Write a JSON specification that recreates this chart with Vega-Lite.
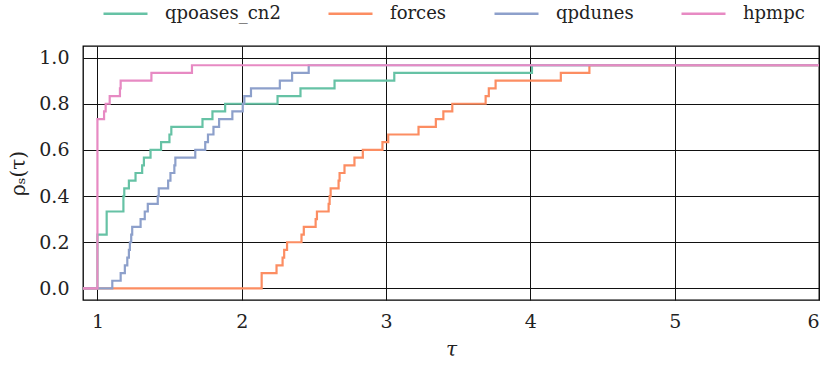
{
  "$schema": "https://vega.github.io/schema/vega-lite/v6.json",
  "width": 736,
  "height": 254,
  "autosize": {"type": "none"},
  "padding": {"left": 83, "top": 46, "right": 8, "bottom": 66},
  "background": "white",
  "config": {
    "font": "DejaVu Serif",
    "view": {"stroke": "black", "strokeWidth": 1.3},
    "axis": {
      "grid": true,
      "gridColor": "#111111",
      "gridWidth": 1,
      "gridOpacity": 1,
      "domain": false,
      "ticks": false,
      "labelFont": "DejaVu Serif",
      "labelFontSize": 19,
      "labelColor": "#222222",
      "titleFont": "DejaVu Serif",
      "titleFontSize": 20,
      "titleFontWeight": "normal",
      "titleColor": "#222222"
    }
  },
  "data": {
    "values": [
      {"s": "qpoases_cn2", "t": 0.9, "v": 0},
      {"s": "qpoases_cn2", "t": 1.0, "v": 0.2333},
      {"s": "qpoases_cn2", "t": 1.064, "v": 0.3333},
      {"s": "qpoases_cn2", "t": 1.18, "v": 0.4},
      {"s": "qpoases_cn2", "t": 1.186, "v": 0.4333},
      {"s": "qpoases_cn2", "t": 1.218, "v": 0.4667},
      {"s": "qpoases_cn2", "t": 1.264, "v": 0.5},
      {"s": "qpoases_cn2", "t": 1.31, "v": 0.5333},
      {"s": "qpoases_cn2", "t": 1.322, "v": 0.5667},
      {"s": "qpoases_cn2", "t": 1.368, "v": 0.6},
      {"s": "qpoases_cn2", "t": 1.441, "v": 0.6333},
      {"s": "qpoases_cn2", "t": 1.499, "v": 0.6667},
      {"s": "qpoases_cn2", "t": 1.512, "v": 0.7},
      {"s": "qpoases_cn2", "t": 1.728, "v": 0.7333},
      {"s": "qpoases_cn2", "t": 1.797, "v": 0.7667},
      {"s": "qpoases_cn2", "t": 1.885, "v": 0.8},
      {"s": "qpoases_cn2", "t": 2.248, "v": 0.8333},
      {"s": "qpoases_cn2", "t": 2.407, "v": 0.8667},
      {"s": "qpoases_cn2", "t": 2.643, "v": 0.9},
      {"s": "qpoases_cn2", "t": 3.057, "v": 0.9333},
      {"s": "qpoases_cn2", "t": 4.011, "v": 0.9667},
      {"s": "qpoases_cn2", "t": 6, "v": 0.9667},

      {"s": "forces", "t": 0.9, "v": 0},
      {"s": "forces", "t": 2.138, "v": 0.0667},
      {"s": "forces", "t": 2.241, "v": 0.1},
      {"s": "forces", "t": 2.283, "v": 0.1333},
      {"s": "forces", "t": 2.294, "v": 0.1667},
      {"s": "forces", "t": 2.314, "v": 0.2},
      {"s": "forces", "t": 2.414, "v": 0.2333},
      {"s": "forces", "t": 2.43, "v": 0.2667},
      {"s": "forces", "t": 2.512, "v": 0.3},
      {"s": "forces", "t": 2.521, "v": 0.3333},
      {"s": "forces", "t": 2.602, "v": 0.3667},
      {"s": "forces", "t": 2.609, "v": 0.4},
      {"s": "forces", "t": 2.616, "v": 0.4333},
      {"s": "forces", "t": 2.671, "v": 0.4667},
      {"s": "forces", "t": 2.678, "v": 0.5},
      {"s": "forces", "t": 2.712, "v": 0.5333},
      {"s": "forces", "t": 2.781, "v": 0.5667},
      {"s": "forces", "t": 2.839, "v": 0.6},
      {"s": "forces", "t": 2.975, "v": 0.6333},
      {"s": "forces", "t": 3.015, "v": 0.6667},
      {"s": "forces", "t": 3.225, "v": 0.7},
      {"s": "forces", "t": 3.345, "v": 0.7333},
      {"s": "forces", "t": 3.397, "v": 0.7667},
      {"s": "forces", "t": 3.459, "v": 0.8},
      {"s": "forces", "t": 3.69, "v": 0.8333},
      {"s": "forces", "t": 3.712, "v": 0.8667},
      {"s": "forces", "t": 3.759, "v": 0.9},
      {"s": "forces", "t": 4.211, "v": 0.9333},
      {"s": "forces", "t": 4.409, "v": 0.9667},
      {"s": "forces", "t": 6, "v": 0.9667},

      {"s": "qpdunes", "t": 0.9, "v": 0},
      {"s": "qpdunes", "t": 1.103, "v": 0.0333},
      {"s": "qpdunes", "t": 1.161, "v": 0.0667},
      {"s": "qpdunes", "t": 1.19, "v": 0.1},
      {"s": "qpdunes", "t": 1.207, "v": 0.1333},
      {"s": "qpdunes", "t": 1.218, "v": 0.1667},
      {"s": "qpdunes", "t": 1.225, "v": 0.2},
      {"s": "qpdunes", "t": 1.234, "v": 0.2333},
      {"s": "qpdunes", "t": 1.241, "v": 0.2667},
      {"s": "qpdunes", "t": 1.299, "v": 0.3},
      {"s": "qpdunes", "t": 1.328, "v": 0.3333},
      {"s": "qpdunes", "t": 1.349, "v": 0.3667},
      {"s": "qpdunes", "t": 1.418, "v": 0.4},
      {"s": "qpdunes", "t": 1.425, "v": 0.4333},
      {"s": "qpdunes", "t": 1.49, "v": 0.4667},
      {"s": "qpdunes", "t": 1.506, "v": 0.5},
      {"s": "qpdunes", "t": 1.533, "v": 0.5333},
      {"s": "qpdunes", "t": 1.54, "v": 0.5667},
      {"s": "qpdunes", "t": 1.678, "v": 0.6},
      {"s": "qpdunes", "t": 1.747, "v": 0.6333},
      {"s": "qpdunes", "t": 1.766, "v": 0.6667},
      {"s": "qpdunes", "t": 1.804, "v": 0.7},
      {"s": "qpdunes", "t": 1.843, "v": 0.7333},
      {"s": "qpdunes", "t": 1.935, "v": 0.7667},
      {"s": "qpdunes", "t": 2.007, "v": 0.8},
      {"s": "qpdunes", "t": 2.018, "v": 0.8333},
      {"s": "qpdunes", "t": 2.064, "v": 0.8667},
      {"s": "qpdunes", "t": 2.264, "v": 0.9},
      {"s": "qpdunes", "t": 2.349, "v": 0.9333},
      {"s": "qpdunes", "t": 2.464, "v": 0.9667},
      {"s": "qpdunes", "t": 6, "v": 0.9667},

      {"s": "hpmpc", "t": 0.9, "v": 0},
      {"s": "hpmpc", "t": 1.0, "v": 0.7333},
      {"s": "hpmpc", "t": 1.046, "v": 0.7667},
      {"s": "hpmpc", "t": 1.057, "v": 0.8},
      {"s": "hpmpc", "t": 1.085, "v": 0.8333},
      {"s": "hpmpc", "t": 1.156, "v": 0.8667},
      {"s": "hpmpc", "t": 1.161, "v": 0.9},
      {"s": "hpmpc", "t": 1.374, "v": 0.9333},
      {"s": "hpmpc", "t": 1.655, "v": 0.9667},
      {"s": "hpmpc", "t": 6, "v": 0.9667}
    ]
  },
  "encoding": {
    "x": {
      "field": "t",
      "type": "quantitative",
      "scale": {"domain": [0.9, 6], "nice": false, "zero": false},
      "axis": {"values": [1, 2, 3, 4, 5, 6], "format": "d", "title": "τ", "titleFontStyle": "italic", "labelPadding": 12, "titlePadding": 8}
    },
    "y": {
      "field": "v",
      "type": "quantitative",
      "scale": {"domain": [-0.05, 1.05], "nice": false, "zero": false},
      "axis": {"values": [0, 0.2, 0.4, 0.6, 0.8, 1.0], "format": ".1f", "title": "ρₛ(τ)", "labelPadding": 14, "titlePadding": 10}
    },
    "color": {
      "field": "s",
      "type": "nominal",
      "scale": {
        "domain": ["qpoases_cn2", "forces", "qpdunes", "hpmpc"],
        "range": ["#66c2a5", "#fc8d62", "#8da0cb", "#e78ac3"]
      },
      "legend": {
        "orient": "none",
        "legendX": 19,
        "legendY": -56,
        "direction": "horizontal",
        "columns": 4,
        "title": null,
        "symbolType": "stroke",
        "symbolSize": 1936,
        "symbolStrokeWidth": 2.5,
        "labelFont": "DejaVu Serif",
        "labelFontSize": 18,
        "labelColor": "#222222",
        "labelOffset": 16,
        "columnPadding": 42
      }
    }
  },
  "layer": [
    {"transform": [{"filter": "datum.s === 'qpoases_cn2'"}], "mark": {"type": "line", "interpolate": "step-after", "strokeWidth": 2.2, "clip": true}},
    {"transform": [{"filter": "datum.s === 'forces'"}], "mark": {"type": "line", "interpolate": "step-after", "strokeWidth": 2.2, "clip": true}},
    {"transform": [{"filter": "datum.s === 'qpdunes'"}], "mark": {"type": "line", "interpolate": "step-after", "strokeWidth": 2.2, "clip": true}},
    {"transform": [{"filter": "datum.s === 'hpmpc'"}], "mark": {"type": "line", "interpolate": "step-after", "strokeWidth": 2.2, "clip": true}}
  ]
}
